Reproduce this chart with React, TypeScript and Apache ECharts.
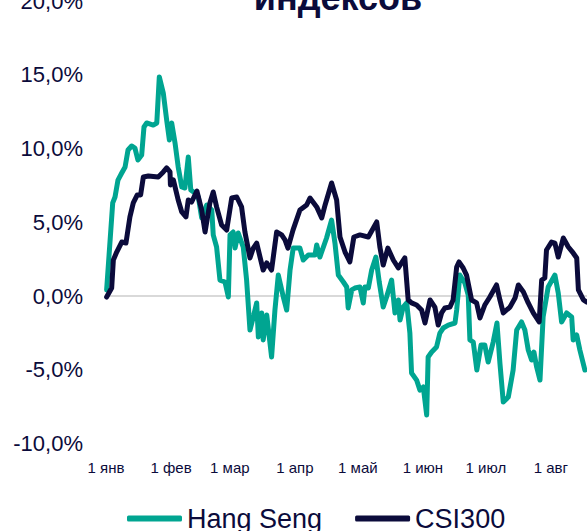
import React, { useEffect, useRef } from "react";
import * as echarts from "echarts";

// Days since 1 January and cumulative change, %
const hsDays = [0.3, 3.2, 4.3, 5.7, 7.5, 9.1, 10.5, 12.2, 13.8, 15.2, 17.0, 18.1, 19.4, 22.5, 24.2, 25.4, 27.3, 28.9, 30.2, 31.3, 32.9, 34.4, 36.1, 37.6, 39.2, 40.4, 42.4, 44.0, 45.6, 48.0, 50.4, 51.1, 52.7, 54.3, 56.7, 58.3, 59.1, 60.6, 61.5, 63.0, 65.4, 67.0, 68.6, 70.2, 71.8, 72.6, 74.2, 74.9, 76.6, 78.9, 80.5, 82.1, 84.5, 86.1, 87.7, 89.2, 90.8, 92.4, 94.0, 96.4, 99.6, 100.4, 101.9, 105.1, 107.5, 109.1, 110.7, 113.1, 114.7, 115.4, 117.1, 118.6, 121.0, 122.6, 123.4, 125.0, 126.6, 128.6, 130.2, 132.1, 133.7, 136.1, 137.7, 139.3, 140.1, 141.6, 143.3, 144.8, 145.6, 148.0, 149.6, 151.2, 152.8, 153.5, 155.2, 157.5, 159.1, 160.7, 163.1, 166.3, 167.1, 168.6, 171.0, 172.6, 173.4, 175.0, 176.7, 178.7, 180.5, 182.1, 184.5, 186.3, 187.7, 189.3, 191.7, 194.0, 195.7, 198.0, 199.6, 201.2, 202.8, 203.9, 205.2, 206.8, 208.3, 210.7, 213.9, 215.5, 217.1, 219.5, 221.9, 222.6, 224.3, 225.8, 228.2];
const hsValues = [0.41, 6.31, 6.71, 7.86, 8.34, 8.75, 9.9, 10.17, 10.03, 9.22, 9.56, 11.46, 11.73, 11.59, 11.73, 14.85, 13.76, 11.93, 10.58, 11.73, 10.37, 8.75, 7.39, 7.32, 9.42, 7.19, 6.98, 6.71, 5.29, 6.17, 5.83, 4.14, 3.32, 1.08, 0.95, -0.07, 4.14, 4.34, 3.25, 4.27, 3.32, 1.08, -2.31, -1.42, -0.47, -2.78, -1.15, -2.98, -1.29, -4.14, -0.95, 1.42, -0.07, -0.95, 1.76, 3.25, 3.25, 3.25, 2.44, 2.78, 2.78, 3.46, 2.64, 3.93, 5.15, 3.59, 1.42, 0.95, 0.61, -0.81, 0.41, 0.54, 0.61, -0.47, 0.61, 0.54, 1.76, 2.64, 0.95, -0.75, -0.07, 1.08, -1.15, -0.27, -1.63, -0.75, -0.47, -2.51, -5.22, -5.7, -6.38, -6.17, -8.07, -4.14, -3.8, -3.46, -2.51, -2.17, -1.97, -1.83, -0.95, 1.42, 0.88, 0.07, -2.98, -3.12, -5.02, -3.32, -3.32, -4.48, -3.12, -1.83, -4.54, -7.19, -6.85, -5.02, -2.31, -1.76, -2.31, -3.66, -4.34, -3.8, -4.81, -5.7, -1.42, 0.61, 1.42, 0.2, -1.76, -1.15, -1.42, -2.98, -2.64, -3.66, -5.02];

const csiDays = [0.3, 2.7, 3.5, 5.1, 7.5, 9.5, 11.4, 13.0, 14.9, 16.5, 17.8, 20.2, 24.9, 27.3, 28.9, 30.5, 30.7, 32.1, 34.4, 36.1, 38.1, 39.2, 40.8, 43.3, 45.6, 47.2, 49.5, 51.1, 52.7, 55.1, 57.5, 59.9, 62.3, 64.6, 66.2, 68.6, 70.2, 71.8, 73.4, 74.9, 76.6, 78.9, 81.3, 83.7, 85.3, 86.7, 89.1, 92.4, 95.6, 97.2, 100.4, 102.8, 104.4, 107.5, 109.9, 111.5, 113.9, 116.2, 118.1, 121.0, 125.0, 129.0, 130.5, 132.1, 134.3, 136.9, 139.3, 142.4, 144.0, 145.6, 148.0, 150.4, 152.0, 154.4, 156.7, 158.3, 159.9, 161.5, 163.9, 165.4, 167.1, 168.2, 170.2, 171.8, 174.2, 176.6, 178.2, 180.5, 182.9, 186.1, 187.7, 189.3, 192.5, 194.9, 196.5, 198.9, 201.2, 203.6, 206.4, 207.6, 209.1, 209.9, 212.3, 213.9, 215.5, 217.9, 220.3, 222.6, 224.3, 225.1, 227.5, 229.1];
const csiValues = [-0.07, 0.54, 2.44, 2.98, 3.66, 3.59, 5.36, 6.31, 6.85, 6.85, 8.07, 8.14, 8.07, 8.41, 8.68, 8.41, 7.53, 7.87, 6.51, 5.7, 5.36, 6.51, 6.37, 7.12, 5.83, 4.34, 6.31, 7.05, 6.04, 4.81, 4.47, 6.64, 6.71, 6.04, 4.34, 2.58, 3.25, 3.59, 2.64, 1.76, 2.24, 1.76, 4.34, 4.14, 3.8, 3.25, 4.47, 5.83, 6.17, 6.64, 6.04, 5.29, 6.17, 7.66, 6.51, 4.0, 2.98, 2.31, 4.0, 4.14, 4.0, 5.02, 3.32, 2.1, 3.25, 2.44, 1.9, 2.58, -0.27, -0.47, -0.61, -0.95, -1.83, -0.27, -0.75, -1.97, -1.15, -0.81, -0.75, -0.27, 1.97, 2.31, 1.9, 1.42, -0.27, -0.47, -1.49, -0.61, -0.07, 0.75, -0.27, -1.15, -0.75, -0.14, 0.75, 0.27, -0.47, -1.15, -1.76, 1.08, 1.22, 3.12, 3.66, 3.59, 2.64, 3.93, 3.32, 2.92, 2.58, 0.41, -0.27, -0.41];

const monthStarts = [0, 31, 59, 90, 120, 151, 181, 212];
const monthLabels = ["1 янв", "1 фев", "1 мар", "1 апр", "1 май", "1 июн", "1 июл", "1 авг"];

const seriesNames = ["Hang Seng", "CSI300"];
const seriesColors = ["#00A591", "#0B0B3B"];
const titleText = "индексов";

const FONT = "'Liberation Sans', Arial, sans-serif";
const TEXT_COLOR = "#0B0B3B";

export default function App() {
  const ref = useRef<HTMLDivElement>(null);

  useEffect(() => {
    document.body.style.margin = "0";
    if (!ref.current) return;
    const chart = echarts.init(ref.current, undefined, { renderer: "svg" });
    const hsData = hsDays.map((d, i) => [d, hsValues[i]]);
    const csiData = csiDays.map((d, i) => [d, csiValues[i]]);

    chart.setOption({
      animation: false,
      backgroundColor: "#ffffff",
      textStyle: { fontFamily: FONT },
      graphic: [
        {
          type: "text",
          x: 338,
          y: -3,
          style: {
            text: titleText,
            fontSize: 36,
            fontWeight: "bold",
            fontFamily: FONT,
            fill: TEXT_COLOR,
            align: "center",
            verticalAlign: "middle",
          },
        },
      ],
      grid: {
        left: 106,
        right: 0,
        top: 1,
        bottom: 87.5,
        containLabel: false,
        outerBoundsMode: "none",
      },
      legend: {
        data: seriesNames,
        left: 122,
        top: 500,
        icon: "roundRect",
        itemWidth: 55,
        itemHeight: 6,
        itemGap: 33,
        textStyle: { fontSize: 27, color: TEXT_COLOR, fontFamily: FONT },
      },
      xAxis: {
        type: "value",
        min: 0,
        max: 229.2,
        axisLine: { show: false },
        axisTick: { show: false },
        splitLine: { show: false },
        axisLabel: {
          customValues: monthStarts,
          formatter: (v: number) => {
            const idx = monthStarts.indexOf(Math.round(v));
            return idx >= 0 ? monthLabels[idx] : "";
          },
          fontSize: 15,
          color: TEXT_COLOR,
          fontFamily: FONT,
          margin: 16,
          hideOverlap: false,
        },
      },
      yAxis: {
        type: "value",
        min: -10,
        max: 20,
        interval: 5,
        axisLine: { show: false },
        axisTick: { show: false },
        splitLine: { show: false },
        axisLabel: {
          formatter: (v: number) => v.toFixed(1).replace(".", ",") + "%",
          fontSize: 22,
          color: TEXT_COLOR,
          fontFamily: FONT,
          margin: 23,
        },
      },
      series: [
        {
          name: seriesNames[0],
          type: "line",
          data: hsData,
          showSymbol: false,
          color: seriesColors[0],
          lineStyle: { width: 5, color: seriesColors[0], cap: "round", join: "round" },
          z: 2,
          markLine: {
            silent: true,
            symbol: "none",
            z: 1,
            label: { show: false },
            lineStyle: { color: "#d9d9d9", width: 2, type: "solid" },
            data: [{ yAxis: 0 }],
          },
        },
        {
          name: seriesNames[1],
          type: "line",
          data: csiData,
          showSymbol: false,
          color: seriesColors[1],
          lineStyle: { width: 5, color: seriesColors[1], cap: "round", join: "round" },
          z: 3,
        },
      ],
    });
    return () => chart.dispose();
  }, []);

  return (
    <div
      ref={ref}
      style={{ position: "absolute", left: 0, top: 0, width: 587, height: 531 }}
    />
  );
}
